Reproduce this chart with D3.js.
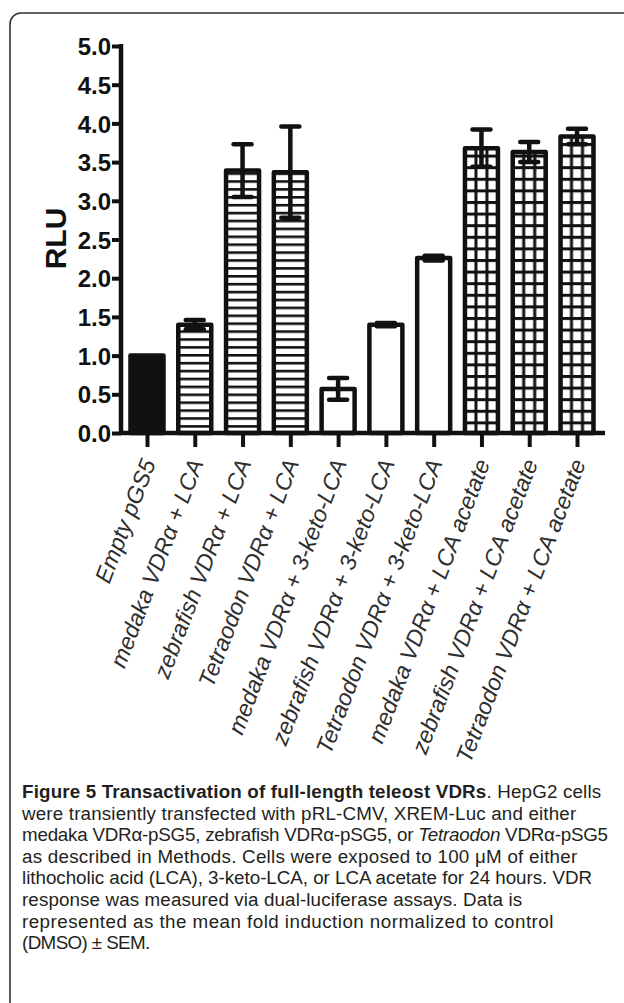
<!DOCTYPE html>
<html>
<head>
<meta charset="utf-8">
<script src="https://cdn.jsdelivr.net/npm/d3@7/dist/d3.min.js"></script>
<style>
  html, body { margin: 0; padding: 0; background: #fff; }
  svg { display: block; }
</style>
</head>
<body>
<svg id="chart" width="624" height="1003"></svg>
<script>
// ---- data ----
const categories = [
  "Empty pGS5",
  "medaka VDRα + LCA",
  "zebrafish VDRα + LCA",
  "Tetraodon VDRα + LCA",
  "medaka VDRα + 3-keto-LCA",
  "zebrafish VDRα + 3-keto-LCA",
  "Tetraodon VDRα + 3-keto-LCA",
  "medaka VDRα + LCA acetate",
  "zebrafish VDRα + LCA acetate",
  "Tetraodon VDRα + LCA acetate"
];
const means = [1.00, 1.40, 3.39, 3.37, 0.57, 1.40, 2.26, 3.68, 3.63, 3.83];
const sems  = [0.00, 0.06, 0.34, 0.59, 0.14, 0.02, 0.03, 0.24, 0.13, 0.10];
const treatments = ["control", "LCA", "LCA", "LCA", "3-keto-LCA", "3-keto-LCA", "3-keto-LCA",
                    "LCA acetate", "LCA acetate", "LCA acetate"];
const yTicks = [0, 0.5, 1, 1.5, 2, 2.5, 3, 3.5, 4, 4.5, 5];
const yLabel = "RLU";

const captionLines = [
  [{t: "Figure 5 Transactivation of full-length teleost VDRs", b: true}, {t: ". HepG2 cells"}],
  [{t: "were transiently transfected with pRL-CMV, XREM-Luc and either"}],
  [{t: "medaka VDRα-pSG5, zebrafish VDRα-pSG5, or "}, {t: "Tetraodon", i: true}, {t: " VDRα-pSG5"}],
  [{t: "as described in Methods. Cells were exposed to 100 μM of either"}],
  [{t: "lithocholic acid (LCA), 3-keto-LCA, or LCA acetate for 24 hours. VDR"}],
  [{t: "response was measured via dual-luciferase assays. Data is"}],
  [{t: "represented as the mean fold induction normalized to control"}],
  [{t: "(DMSO) ± SEM."}]
];

// ---- layout ----
const svg = d3.select("#chart");
const ink = "#111";

// frame
svg.append("rect")
  .attr("x", 10).attr("y", 13)
  .attr("width", 700).attr("height", 1100)
  .attr("rx", 11).attr("ry", 11)
  .attr("fill", "none").attr("stroke", "#333").attr("stroke-width", 1.6);

const y = d3.scaleLinear().domain([0, 5]).range([433, 46]);
const x = d3.scalePoint().domain(categories).range([121, 603]).padding(0.544);

const barW = 33, sw = 4.5;

// patterns
const defs = svg.append("defs");
const data = categories.map((c, i) => ({c, m: means[i], s: sems[i], t: treatments[i], i}));

data.forEach(d => {
  const x0 = x(d.c) - barW / 2;
  if (d.t === "LCA") {
    const p = defs.append("pattern")
      .attr("id", "pat" + d.i).attr("patternUnits", "userSpaceOnUse")
      .attr("x", x0).attr("y", y(0)).attr("width", 40).attr("height", 7.9);
    p.append("rect").attr("width", 40).attr("height", 7.9).attr("fill", "#fff");
    p.append("rect").attr("y", 0).attr("width", 40).attr("height", 2.6).attr("fill", ink);
  } else if (d.t === "LCA acetate") {
    const pw = barW / 3, ph = 11.6;
    const p = defs.append("pattern")
      .attr("id", "pat" + d.i).attr("patternUnits", "userSpaceOnUse")
      .attr("x", x0).attr("y", y(0)).attr("width", pw).attr("height", ph);
    p.append("rect").attr("width", pw).attr("height", ph).attr("fill", "#fff");
    p.append("rect").attr("x", 0).attr("width", pw).attr("height", 3).attr("fill", ink);
    p.append("rect").attr("x", -1.5).attr("width", 3).attr("height", ph).attr("fill", ink);
    p.append("rect").attr("x", pw - 1.5).attr("width", 3).attr("height", ph).attr("fill", ink);
  }
});

function fillFor(d) {
  if (d.t === "control") return ink;
  if (d.t === "3-keto-LCA") return "#fff";
  return "url(#pat" + d.i + ")";
}

// bars
svg.append("g").selectAll("rect").data(data).join("rect")
  .attr("x", d => x(d.c) - barW / 2)
  .attr("y", d => y(d.m))
  .attr("width", barW)
  .attr("height", d => y(0) - y(d.m))
  .attr("fill", fillFor)
  .attr("stroke", ink).attr("stroke-width", sw)
  .attr("stroke-linejoin", "round");

// error bars
const eb = svg.append("g").attr("stroke", ink).attr("stroke-width", sw);
data.filter(d => d.s > 0).forEach(d => {
  const cx = x(d.c);
  eb.append("line").attr("x1", cx).attr("x2", cx).attr("y1", y(d.m - d.s)).attr("y2", y(d.m + d.s));
  [d.m - d.s, d.m + d.s].forEach(v => {
    eb.append("line").attr("x1", cx - 9).attr("x2", cx + 9).attr("y1", y(v)).attr("y2", y(v))
      .attr("stroke-linecap", "round");
  });
});

// y axis
const yAxis = svg.append("g").attr("transform", "translate(121,0)")
  .call(d3.axisLeft(y).tickValues(yTicks).tickSize(9).tickSizeOuter(0).tickPadding(1)
    .tickFormat(d3.format(".1f")));
yAxis.select(".domain").attr("stroke", ink).attr("stroke-width", sw)
  .attr("d", `M0,${y(5) - 2}V${y(0) + 2}`);
yAxis.selectAll(".tick line").attr("stroke", ink).attr("stroke-width", 4);
yAxis.selectAll(".tick text")
  .attr("fill", ink)
  .style("font-family", "'Liberation Sans', Arial, sans-serif")
  .style("font-weight", "bold").style("font-size", "24px")
  .attr("dy", "0.36em");

// x axis
const xAxis = svg.append("g").attr("transform", `translate(0,${y(0)})`)
  .call(d3.axisBottom(x).tickSize(14).tickSizeOuter(0).tickFormat(""));
xAxis.select(".domain").attr("stroke", ink).attr("stroke-width", sw)
  .attr("d", `M${119},0H${605}`);
xAxis.selectAll(".tick line").attr("stroke", ink).attr("stroke-width", 4);

// x labels
svg.append("g").selectAll("text").data(data).join("text")
  .attr("transform", d => `translate(${x(d.c) + 9},${463}) rotate(-69)`)
  .attr("text-anchor", "end")
  .style("font-family", "'Liberation Sans', Arial, sans-serif")
  .style("font-style", "italic").style("font-size", "23px")
  .attr("fill", "#2e2e2e")
  .text(d => d.c);

// y label
svg.append("text")
  .attr("transform", `translate(66,${y(2.5) - 1}) rotate(-90)`)
  .attr("text-anchor", "middle")
  .style("font-family", "'Liberation Sans', Arial, sans-serif")
  .style("font-weight", "bold").style("font-size", "30px")
  .attr("fill", ink)
  .text(yLabel);

// caption: one text per line; width matched to Open Sans 18.5px, drawn in a
// tighter-metric face so that line boxes do not overlap
const capG = svg.append("g").attr("fill", "#231f20");
captionLines.forEach((line, li) => {
  const txt = capG.append("text").attr("x", 22).attr("y", 798 + li * 21.6)
    .style("font-family", "'Open Sans', sans-serif").style("font-size", "18.5px");
  line.forEach(seg => {
    const ts = txt.append("tspan").text(seg.t);
    if (seg.b) ts.style("font-weight", "bold");
    if (seg.i) ts.style("font-style", "italic");
  });
  const target = txt.node().getComputedTextLength();
  txt.style("font-family", "'Liberation Sans', Arial, sans-serif").style("font-size", "18.8px");
  const w = txt.node().getComputedTextLength();
  const n = line.reduce((a, s) => a + s.t.length, 0);
  txt.style("letter-spacing", ((target - w) / n).toFixed(3) + "px");
});
</script>
</body>
</html>
